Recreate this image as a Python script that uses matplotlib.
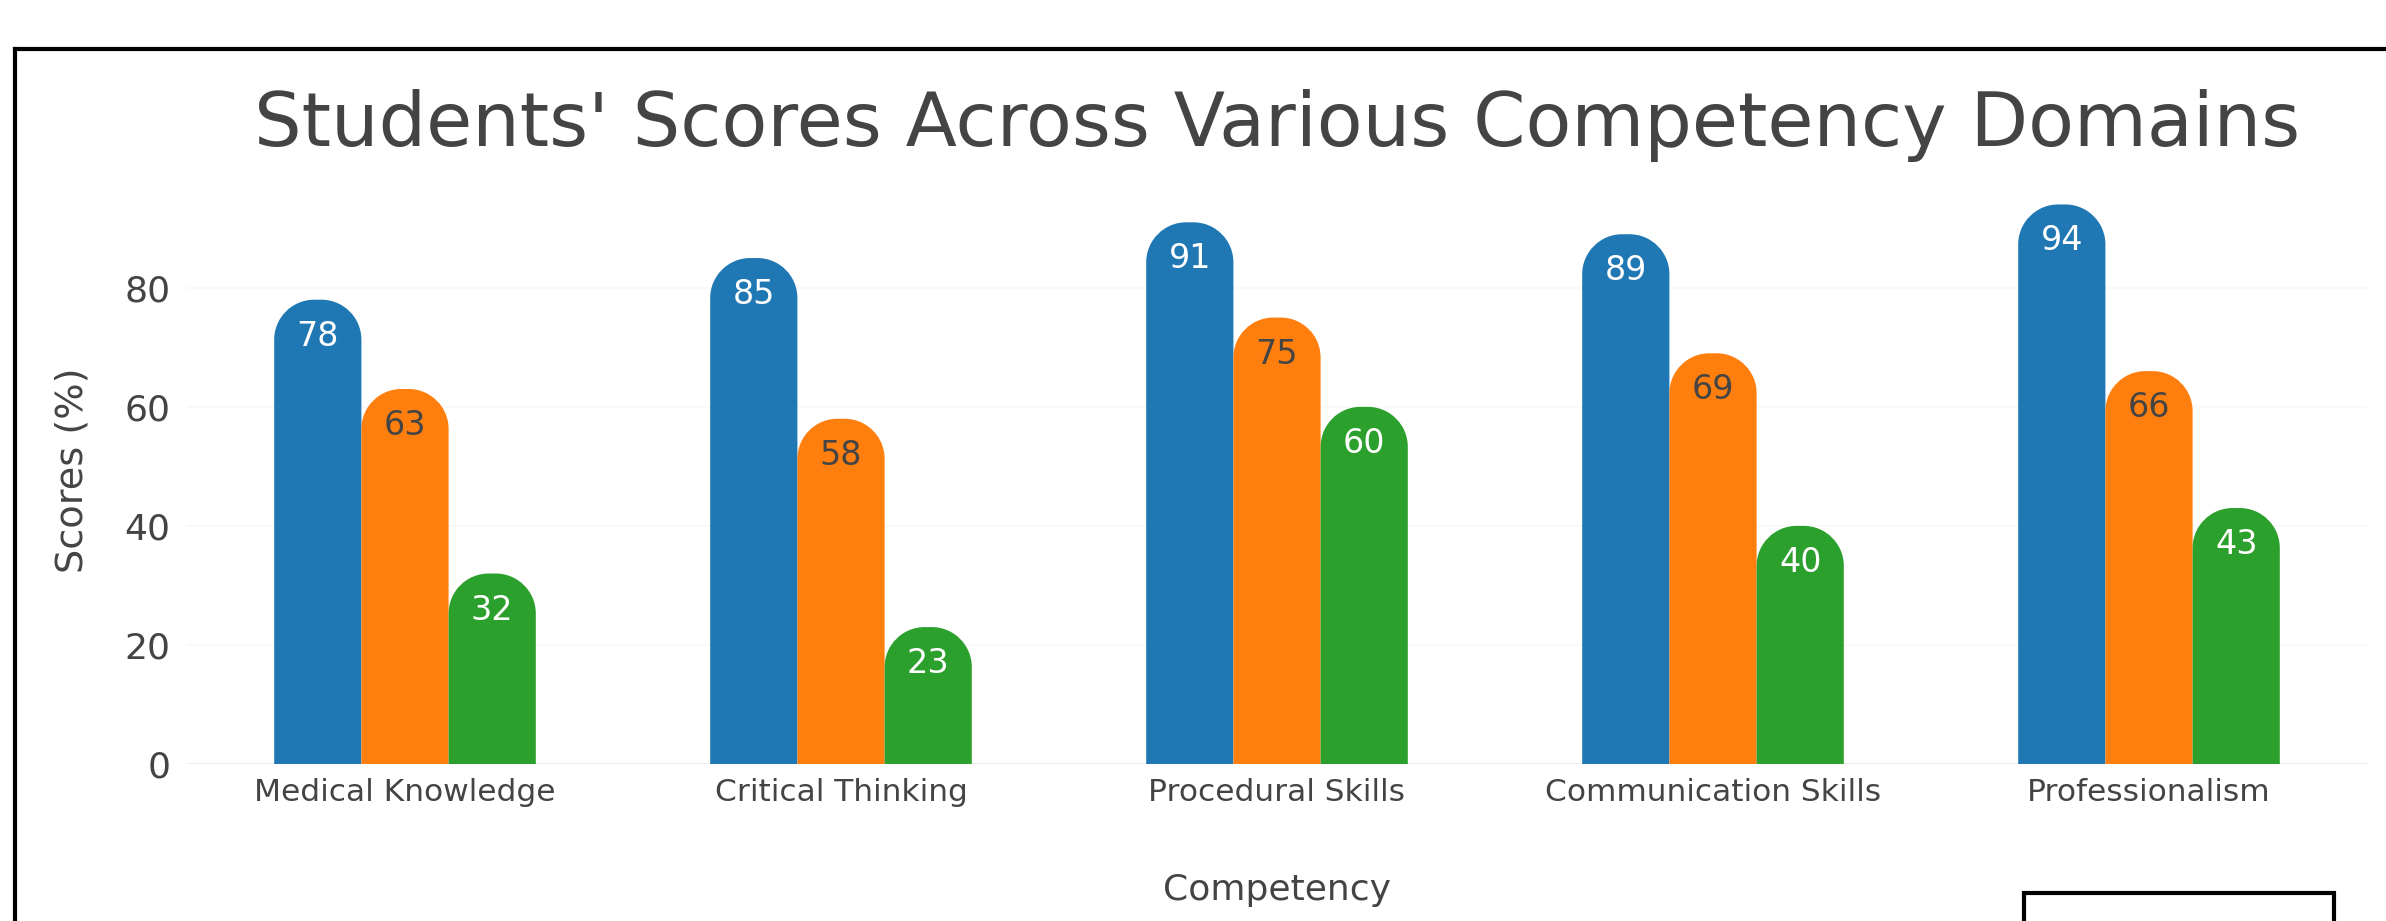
import matplotlib
matplotlib.use("Agg")
import matplotlib.pyplot as plt
from matplotlib.path import Path
from matplotlib.patches import PathPatch, Rectangle
import numpy as np

categories = ["Medical Knowledge", "Critical Thinking", "Procedural Skills",
              "Communication Skills", "Professionalism"]
series_names = ["Series 1", "Series 2", "Series 3"]
series_values = [
    [78, 85, 91, 89, 94],
    [63, 58, 75, 69, 66],
    [32, 23, 60, 40, 43],
]
colors = ["#1f77b4", "#ff7f0e", "#2ca02c"]
label_colors = ["white", "#444444", "white"]
yticks = [0, 20, 40, 60, 80]

W, H = 2386, 921
DPI = 100
fig = plt.figure(figsize=(W / DPI, H / DPI), dpi=DPI)
plt.rcParams["font.family"] = ["DejaVu Sans"]

# axes in pixel coordinates
left, right = 187, 2367
top, bottom = 175, 764
ax = fig.add_axes([left / W, 1 - bottom / H, (right - left) / W, (bottom - top) / H])
ax.set_xlim(-0.5, len(categories) - 0.5)
ax.set_ylim(0, 98.95)

px_x = (right - left) / len(categories)          # pixels per x unit
px_y = (bottom - top) / 98.95                    # pixels per y unit

bar_w = 0.2
radius_px = 40
rx = radius_px / px_x
ry = radius_px / px_y
k = 0.5523

x = np.arange(len(categories))
for si, (vals, col, lc) in enumerate(zip(series_values, colors, label_colors)):
    offs = (si - 1) * bar_w
    bars = ax.bar(x + offs, vals, width=bar_w, color=col, alpha=0, label=series_names[si])
    for b, v in zip(bars, vals):
        x0 = b.get_x()
        w = b.get_width()
        h = b.get_height()
        verts = [
            (x0, 0), (x0, h - ry),
            (x0, h - ry + k * ry), (x0 + rx - k * rx, h), (x0 + rx, h),
            (x0 + w - rx, h),
            (x0 + w - rx + k * rx, h), (x0 + w, h - ry + k * ry), (x0 + w, h - ry),
            (x0 + w, 0), (x0, 0),
        ]
        codes = [Path.MOVETO, Path.LINETO,
                 Path.CURVE4, Path.CURVE4, Path.CURVE4,
                 Path.LINETO,
                 Path.CURVE4, Path.CURVE4, Path.CURVE4,
                 Path.LINETO, Path.CLOSEPOLY]
        ax.add_patch(PathPatch(Path(verts, codes), facecolor=col, edgecolor="none", zorder=3))
        ax.annotate(str(v), xy=(x0 + w / 2, h), xytext=(0, -46 * 72 / DPI),
                    textcoords="offset points", ha="center", va="baseline",
                    fontsize=24, color=lc, zorder=4)

# axes styling
for s in ax.spines.values():
    s.set_visible(False)
ax.set_yticks(yticks)
ax.set_xticks(x)
ax.set_xticklabels(categories)
ax.tick_params(axis="both", length=0, colors="#444444")
ax.tick_params(axis="x", labelsize=22.5, pad=10)
ax.tick_params(axis="y", labelsize=26, pad=12)
ax.grid(axis="y", color="#f8f8f8", linewidth=1.2, zorder=0)
ax.axhline(0, color="#ebebeb", linewidth=2, zorder=1)
ax.set_axisbelow(True)

# axis titles
fig.text(73 / W, 1 - 470 / H, "Scores (%)", rotation=90, ha="center", va="center",
         fontsize=27.5, color="#444444")
fig.text((left + right) / 2 / W, 1 - 890 / H, "Competency", ha="center", va="center",
         fontsize=26, color="#444444")

# title
fig.text((left + right) / 2 / W, 1 - 146 / H,
         "Students' Scores Across Various Competency Domains",
         ha="center", va="baseline", fontsize=54, color="#444444")

# frame lines and box
fig.add_artist(plt.Line2D([15 / W, 1], [1 - 49 / H, 1 - 49 / H], color="black", linewidth=3,
                          transform=fig.transFigure))
fig.add_artist(plt.Line2D([15 / W, 15 / W], [0, 1 - 49 / H], color="black", linewidth=3,
                          transform=fig.transFigure))
fig.add_artist(Rectangle((2024 / W, -0.05), (2334 - 2024) / W, 0.05 + (921 - 893) / H,
                         fill=False, edgecolor="black", linewidth=3,
                         transform=fig.transFigure))

fig.savefig("out.png", dpi=DPI, facecolor="white")
